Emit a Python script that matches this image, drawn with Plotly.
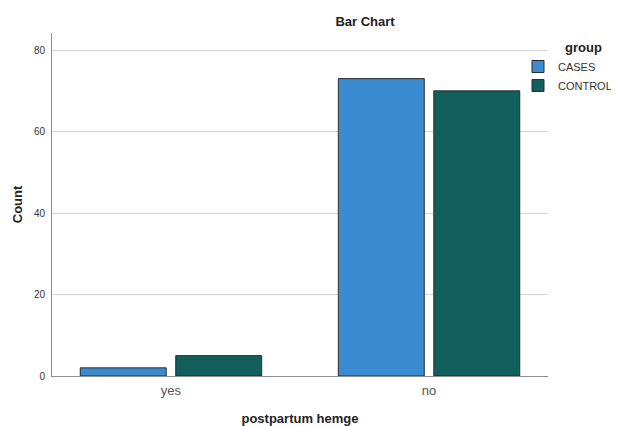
import plotly.graph_objects as go

categories = ["yes", "no"]
cases = [2, 73]
control = [5, 70]
series_names = ["CASES", "CONTROL"]
y_ticks = [0, 20, 40, 60, 80]

colors = {"CASES": "#3a8bd0", "CONTROL": "#125e5a"}

# page body has an 8px margin, so the figure is drawn 8px in from the window edge
W, H = 611, 418
L, R, T, B = 44, 71, 25, 50
plot_w = W - L - R
plot_h = H - T - B

fig = go.Figure()
for name, vals in zip(series_names, [cases, control]):
    fig.add_trace(go.Bar(
        x=categories, y=vals, name=name,
        marker=dict(color=colors[name], line=dict(color="#2b2b2b", width=1)),
    ))

fig.update_layout(
    width=W, height=H,
    margin=dict(l=L, r=R, t=T, b=B, autoexpand=False),
    paper_bgcolor="white", plot_bgcolor="white",
    barmode="group", bargap=0.26, bargroupgap=0.1,
    font=dict(family="Liberation Sans, Arial, sans-serif", color="#333"),
    title=dict(text="<b>Bar Chart</b>", x=357 / W, xanchor="center",
               y=1 - 13 / H, yanchor="middle", font=dict(size=13, color="#222")),
    legend=dict(
        x=(510 - L) / plot_w, xanchor="left", y=1 - 19 / plot_h, yanchor="top",
        font=dict(size=11, color="#333"), bgcolor="rgba(0,0,0,0)",
        itemwidth=30, tracegroupgap=0,
    ),
    showlegend=True,
    annotations=[dict(
        text="<b>group</b>", xref="paper", yref="paper",
        x=(575 - L) / plot_w, y=1 - (39 - T) / plot_h,
        xanchor="center", yanchor="middle", showarrow=False,
        font=dict(size=13, color="#222"),
    )],
)

fig.update_xaxes(
    type="category", range=[-0.461, 1.461],
    showline=True, linecolor="#8c8c8c", linewidth=1,
    showgrid=False, ticks="", ticklabelstandoff=2,
    tickfont=dict(size=13, color="#555"),
    title=dict(text="<b>postpartum hemge</b>", font=dict(size=13, color="#222"), standoff=21),
    automargin=False,
)
fig.update_yaxes(
    range=[0, 84.2], tickvals=y_ticks,
    showline=True, linecolor="#8c8c8c", linewidth=1,
    showgrid=True, gridcolor="#d4d4d4", gridwidth=1,
    zeroline=False, ticks="", ticklabelstandoff=4,
    tickfont=dict(size=10, color="#333"),
    title=dict(text="<b>Count</b>", font=dict(size=13, color="#222"), standoff=8),
    automargin=False,
)

fig.write_html("out.html")
